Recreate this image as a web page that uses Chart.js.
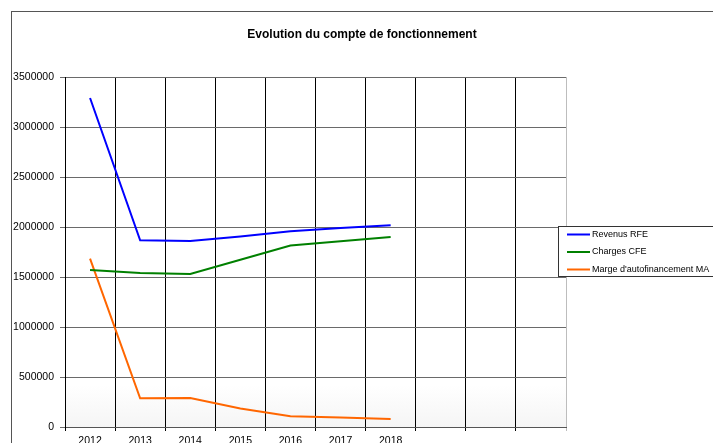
<!DOCTYPE html>
<html>
<head>
<meta charset="utf-8">
<script src="https://cdn.jsdelivr.net/npm/chart.js@4/dist/chart.umd.min.js"></script>
<style>
  html, body { margin: 0; padding: 0; background: #fff; }
  #wrap { width: 713px; height: 443px; }
</style>
</head>
<body>
<div id="wrap"><canvas id="myChart" width="713" height="443"></canvas></div>
<script>
'use strict'

// donnees
var annees = ['2012', '2013', '2014', '2015', '2016', '2017', '2018', '', '', '']
var revenus = [3290000, 1867000, 1860000, 1905000, 1957000, 1990000, 2017000]
var charges = [1570000, 1540000, 1530000, 1672000, 1815000, 1857000, 1900000]
var marge = [1683000, 287000, 290000, 184000, 107000, 94000, 80000]
var yTicks = [0, 500000, 1000000, 1500000, 2000000, 2500000, 3000000, 3500000]

var police = '"Liberation Sans", Arial, sans-serif'

// fond, cadre, titre et legende
var decor = {
  id: 'decor',
  beforeDraw: function(chart) {
    var ctx = chart.ctx
    var a = chart.chartArea
    ctx.save()
    ctx.fillStyle = '#fff'
    ctx.fillRect(0, 0, chart.width, chart.height)
    var g = ctx.createLinearGradient(0, a.top, 0, a.bottom)
    g.addColorStop(0, '#ffffff')
    g.addColorStop(0.88, '#ffffff')
    g.addColorStop(1, '#f5f5f5')
    ctx.fillStyle = g
    ctx.fillRect(a.left, a.top, a.right - a.left, a.bottom - a.top)
    ctx.restore()
  },
  afterDraw: function(chart) {
    var ctx = chart.ctx
    ctx.save()
    // cadre exterieur
    ctx.strokeStyle = '#555'
    ctx.lineWidth = 1
    ctx.strokeRect(11.5, 11.5, 720, 450)
    // titre
    ctx.fillStyle = '#000'
    ctx.font = 'bold 12px ' + police
    ctx.textAlign = 'center'
    ctx.textBaseline = 'middle'
    ctx.fillText('Evolution du compte de fonctionnement', 362, 35)
    // legende
    ctx.fillStyle = '#fff'
    ctx.fillRect(558.5, 226.5, 160, 50)
    ctx.strokeStyle = '#333'
    ctx.strokeRect(558.5, 226.5, 160, 50)
    ctx.font = '9px ' + police
    ctx.textAlign = 'left'
    ctx.fillStyle = '#000'
    chart.data.datasets.forEach(function(ds, i) {
      var y = 234.5 + i * 17.5
      ctx.strokeStyle = ds.borderColor
      ctx.lineWidth = 2
      ctx.beginPath()
      ctx.moveTo(567, y)
      ctx.lineTo(590, y)
      ctx.stroke()
      ctx.fillText(ds.label, 592, y)
    })
    ctx.restore()
  }
}

var ctx = document.getElementById('myChart').getContext('2d')
var chart = new Chart(ctx, {
  type: 'line',
  data: {
    labels: annees,
    datasets: [{
      label: 'Revenus RFE',
      borderColor: '#0000ff',
      data: revenus
    },
    {
      label: 'Charges CFE',
      borderColor: '#008000',
      data: charges
    },
    {
      label: "Marge d'autofinancement MA",
      borderColor: '#ff6600',
      data: marge
    }]
  },
  options: {
    responsive: false,
    animation: false,
    devicePixelRatio: 1,
    layout: { padding: { left: 0, right: 147, top: 77, bottom: 0 } },
    elements: {
      line: { borderWidth: 2, tension: 0 },
      point: { radius: 0 }
    },
    plugins: {
      legend: { display: false },
      title: { display: false },
      tooltip: { enabled: false }
    },
    scales: {
      x: {
        offset: true,
        afterFit: function(s) { s.height = 16 },
        grid: {
          offset: true,
          tickLength: 4,
          color: function(c) { return c.tick ? '#000' : '#bdbdbd' }
        },
        border: { color: '#555', width: 1 },
        ticks: {
          color: '#000',
          padding: 4,
          autoSkip: false,
          maxRotation: 0,
          font: { family: police, size: 10.5 }
        }
      },
      y: {
        min: 0,
        max: 3500000,
        afterFit: function(s) { s.width = 65 },
        afterBuildTicks: function(s) {
          s.ticks = yTicks.map(function(v) { return { value: v } })
        },
        grid: { color: '#6a6a6a', tickLength: 5 },
        border: { color: '#000', width: 1 },
        ticks: {
          color: '#000',
          padding: 6,
          font: { family: police, size: 10.5 },
          callback: function(v) { return String(v) }
        }
      }
    }
  },
  plugins: [decor]
})
</script>
</body>
</html>
